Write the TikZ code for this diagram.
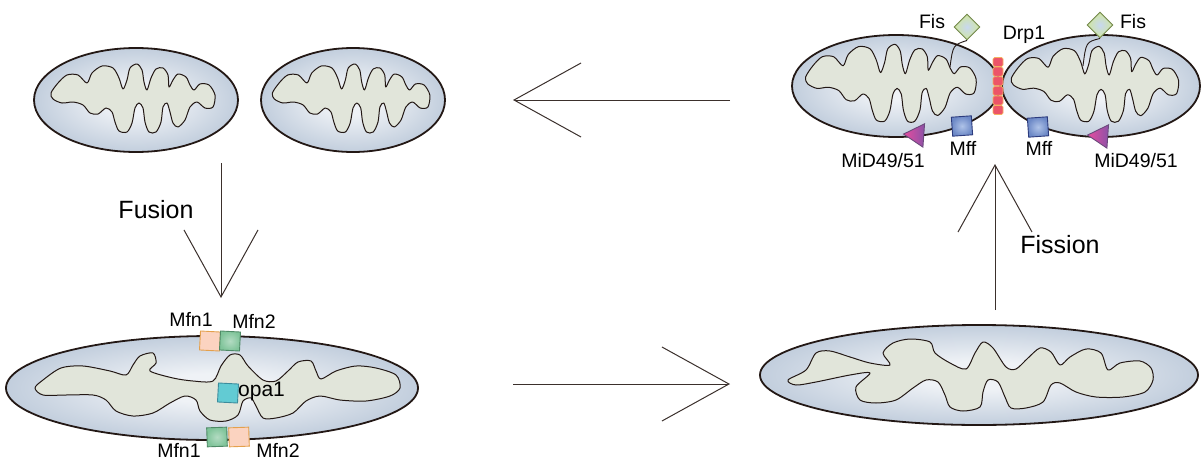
\documentclass[tikz,border=0pt]{standalone}
\usepackage{fontspec}
\setmainfont{Liberation Sans}
\usetikzlibrary{shapes.geometric,arrows.meta}

\definecolor{mitoin}{HTML}{EFF2F6}
\definecolor{mitoout}{HTML}{C2CEDD}
\definecolor{matrix}{HTML}{E1E5DA}
\definecolor{membrane}{HTML}{231815}
\definecolor{arrowcol}{HTML}{3B302C}
\definecolor{mfnA}{HTML}{FBD3C0}
\definecolor{mfnAedge}{HTML}{E4A04C}
\definecolor{mfnB}{HTML}{80C49A}
\definecolor{mfnBedge}{HTML}{4E8A66}
\definecolor{opa}{HTML}{62CBD3}
\definecolor{opaedge}{HTML}{3C8C9C}
\definecolor{mffin}{HTML}{AFC3E8}
\definecolor{mffout}{HTML}{6C88C6}
\definecolor{mffedge}{HTML}{2C3B7D}
\definecolor{fisin}{HTML}{C8D8F0}
\definecolor{fisout}{HTML}{D0E6A0}
\definecolor{fisedge}{HTML}{72874A}
\definecolor{midpink}{HTML}{E84C9E}
\definecolor{midpurple}{HTML}{8C52A8}
\definecolor{midedge}{HTML}{6B4A7C}
\definecolor{drp}{HTML}{EC5468}
\definecolor{drpedge}{HTML}{F5B060}

\pgfdeclareradialshading{mitoshade}{\pgfpoint{0bp}{0bp}}{color(0bp)=(mitoin); color(7bp)=(mitoin); color(25bp)=(mitoout); color(50bp)=(mitoout)}

\tikzstyle{mito} = [ellipse, inner sep=0pt, draw=membrane, line width=1.8pt, shading=mitoshade]
\tikzstyle{cristae} = [draw=membrane, line width=1pt, fill=matrix, line join=round]
\tikzstyle{prot} = [rectangle, inner sep=0pt, minimum width=20pt, minimum height=19pt, line width=0.9pt]
\tikzstyle{mfnone} = [prot, draw=mfnAedge, fill=mfnA]
\tikzstyle{mfntwo} = [prot, draw=mfnBedge, shading=radial, inner color=mfnB!60!white, outer color=mfnB]
\tikzstyle{opabox} = [prot, draw=opaedge, fill=opa]
\tikzstyle{mffbox} = [prot, draw=mffedge, shading=radial, inner color=mffin, outer color=mffout]
\tikzstyle{fisbox} = [diamond, aspect=1, inner sep=0pt, minimum size=26pt, draw=fisedge, line width=0.9pt, shading=radial, inner color=fisin, outer color=fisout]
\tikzstyle{midtri} = [regular polygon, regular polygon sides=3, shape border rotate=90, inner sep=0pt, minimum size=27pt, draw=midedge, line width=0.9pt, left color=midpink, right color=midpurple]
\tikzstyle{drpbox} = [rectangle, rounded corners=1.5pt, inner sep=0pt, minimum width=10pt, minimum height=9pt, draw=drpedge, line width=0.7pt, fill=drp]
\tikzstyle{tether} = [draw=membrane, line width=0.9pt]
\tikzstyle{arrow} = [draw=arrowcol, line width=1pt, -{Straight Barb[length=67pt, width=74pt, line width=1pt]}]
\tikzstyle{bigtxt} = [inner sep=0pt, font=\fontsize{25}{28}\selectfont]
\tikzstyle{smalltxt} = [inner sep=0pt, font=\fontsize{19.5}{22}\selectfont]

% inner membrane of the small mitochondria
\newcommand{\cristaeshort}[2]{\draw[cristae, shift={(#1)}, #2] plot[smooth cycle] coordinates {
  (-78,-17) (-69,-25) (-58,-25) (-49,-17) (-44,-27) (-34,-34) (-23,-32) (-17,-22)
  (-13,-11) (-9,-20) (-6,-32) (1,-36) (6,-30) (8,-18) (11,-10) (15,-22) (20,-31)
  (27,-32) (32,-25) (33,-13) (37,-20) (42,-26) (50,-23) (54,-15) (58,-10) (64,-16)
  (73,-15) (79,-5) (77,7) (69,8) (61,2) (54,7) (49,20) (42,27) (37,23) (34,12)
  (31,3) (27,7) (25,22) (20,32) (13,32) (9,22) (7,8) (3,3) (-1,8) (-4,23) (-9,32)
  (-17,31) (-21,22) (-24,12) (-30,8) (-38,14) (-46,13) (-53,5) (-63,2) (-74,3)
  (-83,-1) (-85,-7)};}
% inner membrane of the fused mitochondrion
\newcommand{\cristaefuse}[2]{\draw[cristae, shift={(#1)}, #2] plot[smooth cycle] coordinates {
  (-178,1) (-170,-7) (-152,-19) (-130,-21) (-103,-16) (-87,-12) (-80,-22) (-73,-31)
  (-60,-34) (-57,-24) (-63,-16) (-40,-9) (-20,-6) (0,-6) (8,-21) (17,-32) (27,-32)
  (35,-21) (50,-7) (63,-6) (75,-16) (85,-25) (98,-26) (103,-16) (108,-8) (123,-16)
  (143,-21) (163,-19) (183,-12) (187,1) (177,9) (153,14) (127,13) (107,9) (93,14)
  (80,26) (63,31) (50,31) (43,19) (38,11) (30,14) (25,28) (13,34) (-3,33) (-13,24)
  (-17,13) (-28,9) (-43,16) (-60,26) (-80,29) (-97,24) (-107,13) (-120,8)
  (-147,8) (-170,8)};}
% inner membrane of the elongated mitochondrion
\newcommand{\cristaelong}[2]{\draw[cristae, shift={(#1)}, #2] plot[smooth cycle] coordinates {
  (-191,5) (-173,-5) (-163,-22) (-149,-24) (-129,-18) (-109,-12) (-89,-10) (-96,-22)
  (-86,-32) (-69,-36) (-49,-33) (-44,-22) (-29,-12) (-13,-6) (-4,-22) (4,-33)
  (14,-27) (27,-8) (37,-6) (49,-17) (61,-27) (72,-23) (81,-10) (91,-18) (107,-26)
  (122,-22) (129,-5) (141,-12) (161,-14) (172,-7) (174,5) (166,17) (144,22)
  (117,22) (97,17) (81,8) (72,10) (64,27) (47,33) (32,33) (26,22) (19,7) (9,5)
  (4,17) (1,32) (-16,36) (-29,32) (-34,20) (-41,7) (-53,5) (-66,13) (-83,25)
  (-103,28) (-119,25) (-123,12) (-109,-2) (-129,0) (-163,7) (-183,10)};}

\begin{document}
\begin{tikzpicture}[x=1pt,y=-1pt]
  \useasboundingbox (0,0) rectangle (1203,466);

  % outer membranes
  \node[mito, minimum width=204pt, minimum height=104pt] (topA) at (136,100) {};
  \node[mito, minimum width=184pt, minimum height=104pt] (topB) at (353,100) {};
  \node[mito, minimum width=208pt, minimum height=102pt] (fisA) at (896,86) {};
  \node[mito, minimum width=198pt, minimum height=102pt] (fisB) at (1101,86) {};
  \node[mito, minimum width=412pt, minimum height=104pt] (fused) at (212,388) {};
  \node[mito, minimum width=438pt, minimum height=100pt] (long) at (979,375) {};

  % cristae
  \cristaeshort{136,100}{}
  \cristaeshort{354,100}{xscale=0.96}
  \cristaeshort{894,85}{xscale=1.04, yscale=1.13}
  \cristaeshort{1098,86}{xscale=1.02, yscale=1.1}
  \cristaefuse{213,387}{}
  \cristaelong{979,375}{}

  % fusion proteins
  \node[mfnone, rotate=-3] (mfn1t) at (210,341) {};
  \node[mfntwo, rotate=-3] (mfn2t) at (230,341) {};
  \node[mfntwo, rotate=2] (mfn1b) at (217,437) {};
  \node[mfnone, rotate=2] (mfn2b) at (239,437) {};
  \node[opabox, rotate=-3] (opa1) at (228,393) {};
  \node[smalltxt] at (191,319) {Mfn1};
  \node[smalltxt] at (254,321) {Mfn2};
  \node[smalltxt] at (179,450) {Mfn1};
  \node[smalltxt] at (278,450) {Mfn2};
  \node[smalltxt, font=\fontsize{21}{24}\selectfont, anchor=west] at (238,391) {opa1};

  % fission machinery
  \foreach \i in {0,...,5}
    \node[drpbox] (drp\i) at (998,{62+9.6*\i}) {};
  \node[fisbox] (fisL) at (967,27) {};
  \node[fisbox] (fisR) at (1100,25) {};
  \coordinate (fisLend) at (950,67);
  \coordinate (fisRend) at (1083,66);
  \draw[tether] (fisL.south) .. controls (953,45) .. (fisLend);
  \draw[tether] (fisR.south) .. controls (1086,42) .. (fisRend);
  \node[mffbox, rotate=4] (mffL) at (962,126) {};
  \node[mffbox, rotate=4] (mffR) at (1038,127) {};
  \node[midtri, rotate=-4] (midL) at (917,135) {};
  \node[midtri, rotate=-4] (midR) at (1101,136) {};
  \node[smalltxt] at (932,22) {Fis};
  \node[smalltxt] at (1133,22) {Fis};
  \node[smalltxt] at (1024,35) {Drp1};
  \node[smalltxt] at (963,148) {Mff};
  \node[smalltxt] at (1039,148) {Mff};
  \node[smalltxt] at (883,161) {MiD49/51};
  \node[smalltxt] at (1136,161) {MiD49/51};

  % arrows
  \coordinate (fuseS) at (221,163);
  \coordinate (fuseE) at (221,298);
  \coordinate (backS) at (730,100);
  \coordinate (backE) at (513,100);
  \coordinate (growS) at (513,384);
  \coordinate (growE) at (730,384);
  \coordinate (fissS) at (995,310);
  \coordinate (fissE) at (995,164);
  \draw[arrow] (fuseS) -- (fuseE);
  \draw[arrow] (backS) -- (backE);
  \draw[arrow] (growS) -- (growE);
  \draw[arrow] (fissS) -- (fissE);
  \node[bigtxt] at (156,210) {Fusion};
  \node[bigtxt] at (1060,245) {Fission};
\end{tikzpicture}
\end{document}
